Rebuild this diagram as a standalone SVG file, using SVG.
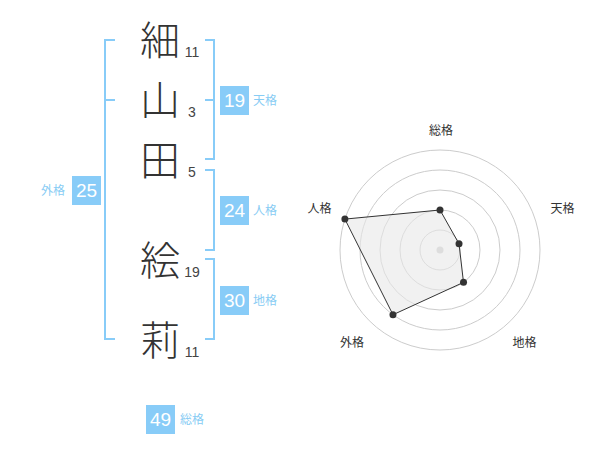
<svg xmlns="http://www.w3.org/2000/svg" width="600" height="470" viewBox="0 0 600 470">
<style>
.kanji{font-family:"Noto Sans CJK JP","Noto Sans CJK SC",sans-serif;font-size:40px;font-weight:300;fill:#333;text-anchor:middle}
.stroke{font-family:"Liberation Sans",Arial,sans-serif;font-size:14px;fill:#444;text-anchor:middle}
.br{fill:none;stroke:#88ccf8;stroke-width:2}
.box{fill:#88ccf8}
.boxnum{font-family:"Liberation Sans",Arial,sans-serif;font-size:19px;fill:#fff;text-anchor:middle}
.lbl{font-family:"Noto Sans CJK JP","Noto Sans CJK SC",sans-serif;font-size:12px;fill:#88ccf4}
.rlbl{font-family:"Noto Sans CJK JP","Noto Sans CJK SC",sans-serif;font-size:12px;fill:#333;text-anchor:middle}
.ring{fill:none;stroke:#cccccc;stroke-width:1}
.dot{fill:#333}
</style>
<rect width="600" height="470" fill="#fff"/>
<g id="chars">
<g id="c1"><text class="kanji" x="160" y="55">細</text><text class="stroke" x="192" y="57">11</text></g>
<g id="c2"><text class="kanji" x="160" y="115">山</text><text class="stroke" x="192" y="117">3</text></g>
<g id="c3"><text class="kanji" x="160" y="175">田</text><text class="stroke" x="192" y="177">5</text></g>
<g id="c4"><text class="kanji" x="160" y="275">絵</text><text class="stroke" x="192" y="277">19</text></g>
<g id="c5"><text class="kanji" x="160" y="355">莉</text><text class="stroke" x="192" y="357">11</text></g>
</g>
<g id="connectors">
<path class="br" d="M115,40 H105 V339 H115 M105,100 H115"/>
<path class="br" d="M205,40 H214 V159 H205 M214,100 H205"/>
<path class="br" d="M205,170 H214 V250 H205"/>
<path class="br" d="M205,259 H214 V339 H205"/>
</g>
<g id="tenkaku"><rect class="box" x="220" y="86" width="29" height="29"/><text class="boxnum" x="234.5" y="107">19</text><text class="lbl" x="253" y="105">天格</text></g>
<g id="jinkaku"><rect class="box" x="220" y="196" width="29" height="29"/><text class="boxnum" x="234.5" y="217">24</text><text class="lbl" x="253" y="215">人格</text></g>
<g id="chikaku"><rect class="box" x="220" y="286" width="29" height="29"/><text class="boxnum" x="234.5" y="307">30</text><text class="lbl" x="253" y="305">地格</text></g>
<g id="gaikaku"><rect class="box" x="72" y="176" width="29" height="29"/><text class="boxnum" x="86.5" y="197">25</text><text class="lbl" x="41" y="195">外格</text></g>
<g id="soukaku"><rect class="box" x="146" y="405" width="29" height="29"/><text class="boxnum" x="160.5" y="426">49</text><text class="lbl" x="180" y="424">総格</text></g>
<g id="radar">
<circle class="ring" cx="440" cy="250" r="100"/>
<circle class="ring" cx="440" cy="250" r="80"/>
<circle class="ring" cx="440" cy="250" r="60"/>
<circle class="ring" cx="440" cy="250" r="40"/>
<circle class="ring" cx="440" cy="250" r="20"/>
<circle cx="440" cy="250" r="3.5" fill="#cccccc"/>
<polygon points="440,210 459.02,243.82 463.51,282.36 392.98,314.72 344.89,219.1" fill="#e8e8e8" fill-opacity="0.6" stroke="#333" stroke-width="1"/>
<circle class="dot" cx="440" cy="210" r="3.5"/>
<circle class="dot" cx="459.02" cy="243.82" r="3.5"/>
<circle class="dot" cx="463.51" cy="282.36" r="3.5"/>
<circle class="dot" cx="392.98" cy="314.72" r="3.5"/>
<circle class="dot" cx="344.89" cy="219.1" r="3.5"/>
<text class="rlbl" x="441" y="134.5">総格</text>
<text class="rlbl" x="562.5" y="212.5">天格</text>
<text class="rlbl" x="524.5" y="347">地格</text>
<text class="rlbl" x="352" y="347">外格</text>
<text class="rlbl" x="319.5" y="212.5">人格</text>
</g>
</svg>
